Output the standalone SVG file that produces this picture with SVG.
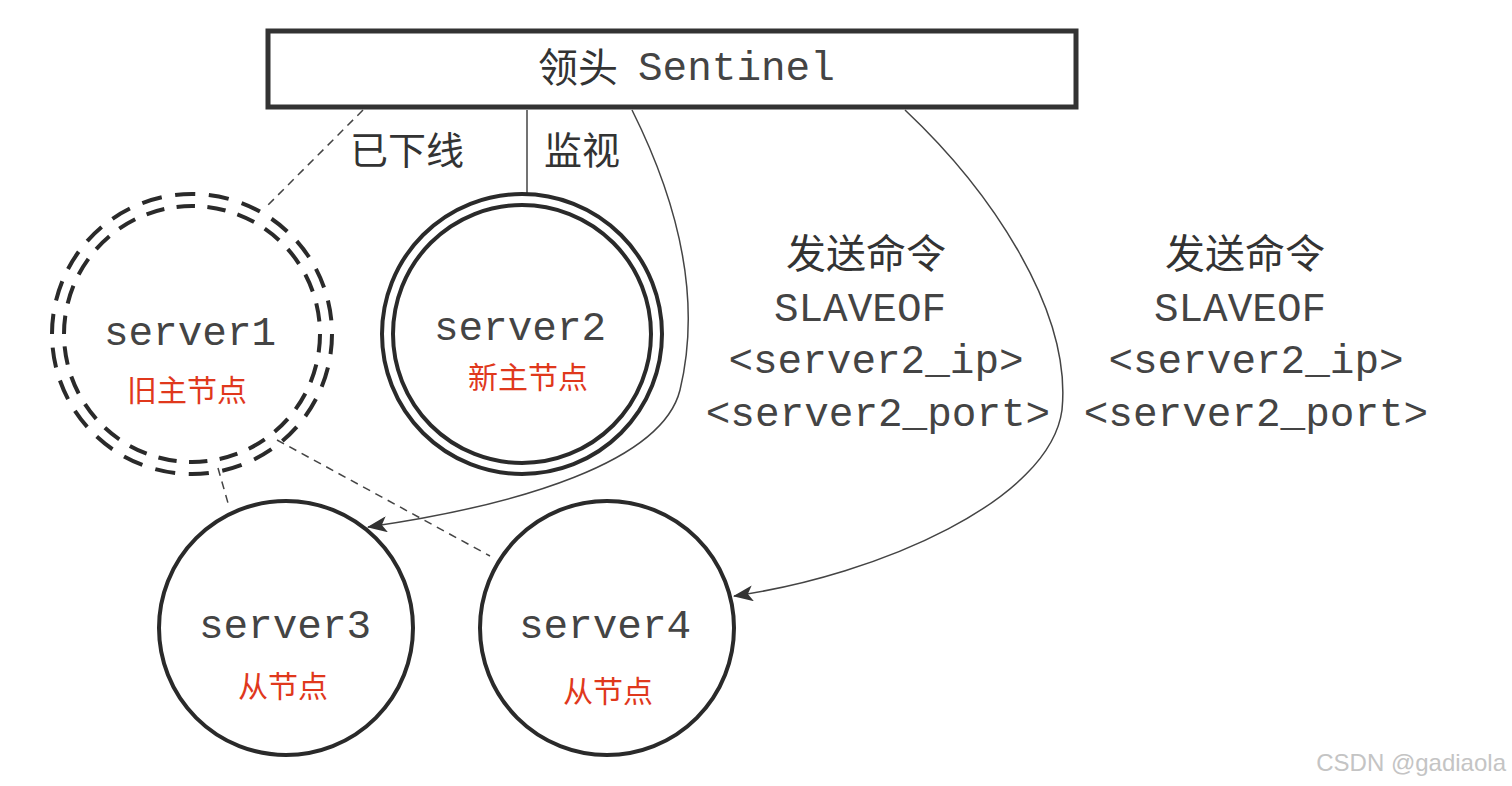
<svg xmlns="http://www.w3.org/2000/svg" width="1512" height="786" viewBox="0 0 1512 786">
  <style>
    .mono { font-family: "Liberation Mono", "DejaVu Sans Mono", monospace; font-size: 41px; fill: #444; }
    .cjk { font-family: "Noto Sans CJK SC", "Noto Sans", sans-serif; fill: #333; }
    .red { font-family: "Noto Sans CJK SC", "Noto Sans", sans-serif; font-size: 30px; fill: #e0381c; }
    .ring { fill: none; stroke: #2a2a2a; stroke-width: 4; }
    .dring { fill: none; stroke: #2a2a2a; stroke-width: 4; stroke-dasharray: 2.3 1.546; }
    .conn { fill: none; stroke: #444; stroke-width: 1.5; }
    .dash { fill: none; stroke: #444; stroke-width: 1.5; stroke-dasharray: 8 6; }
  </style>
  <defs>
    <marker id="arrow" viewBox="0 0 20 16" refX="19" refY="8" markerWidth="20" markerHeight="16" markerUnits="userSpaceOnUse" orient="auto">
      <path d="M0,0 L20,8 L0,16 L5,8 Z" fill="#333"/>
    </marker>
  </defs>
  <rect width="1512" height="786" fill="#fff"/>

  <g id="connectors">
    <line class="dash" x1="363" y1="110" x2="265" y2="208"/>
    <line class="conn" x1="527" y1="110" x2="527" y2="195" stroke="#666" stroke-width="2"/>
    <path class="conn" d="M632,110 C672,190 704,290 680,390 C662,462 520,505 368,527" marker-end="url(#arrow)"/>
    <path class="conn" d="M905,110 C990,190 1072,310 1062,410 C1050,500 880,575 734,596" marker-end="url(#arrow)"/>
    <line class="dash" x1="218" y1="468" x2="228" y2="503"/>
    <line class="dash" x1="277" y1="440" x2="490" y2="556"/>
  </g>

  <g id="sentinel">
    <rect x="268" y="31" width="808" height="76" fill="#fff" stroke="#333" stroke-width="5"/>
    <text x="538" y="82" class="cjk" font-size="40">领头</text>
    <text x="638" y="80" class="mono" font-size="40">Sentinel</text>
  </g>

  <g id="label-offline">
    <text x="407" y="164" class="cjk" font-size="38" text-anchor="middle">已下线</text>
  </g>
  <g id="label-monitor">
    <text x="582" y="164" class="cjk" font-size="38" text-anchor="middle">监视</text>
  </g>

  <g id="server1">
    <circle cx="192" cy="334" r="140" class="dring" pathLength="100"/>
    <circle cx="192" cy="334" r="128" class="dring" pathLength="100"/>
    <text x="190" y="345" class="mono" text-anchor="middle">server1</text>
    <text x="187" y="401" class="red" text-anchor="middle">旧主节点</text>
  </g>

  <g id="server2">
    <circle cx="522" cy="334" r="140" class="ring"/>
    <circle cx="522" cy="334" r="129" class="ring"/>
    <text x="520" y="340" class="mono" text-anchor="middle">server2</text>
    <text x="528" y="388" class="red" text-anchor="middle">新主节点</text>
  </g>

  <g id="server3">
    <circle cx="286" cy="628" r="127" class="ring" stroke-width="3.5"/>
    <text x="285" y="638" class="mono" text-anchor="middle">server3</text>
    <text x="283" y="697" class="red" text-anchor="middle">从节点</text>
  </g>

  <g id="server4">
    <circle cx="607" cy="628" r="127" class="ring" stroke-width="3.5"/>
    <text x="605" y="638" class="mono" text-anchor="middle">server4</text>
    <text x="608" y="702" class="red" text-anchor="middle">从节点</text>
  </g>

  <g id="cmd-left">
    <text x="866" y="268" class="cjk" font-size="40" text-anchor="middle">发送命令</text>
    <text x="860" y="321" class="mono" text-anchor="middle">SLAVEOF</text>
    <text x="876" y="373" class="mono" text-anchor="middle">&lt;server2_ip&gt;</text>
    <text x="878" y="426" class="mono" text-anchor="middle">&lt;server2_port&gt;</text>
  </g>

  <g id="cmd-right">
    <text x="1245" y="268" class="cjk" font-size="40" text-anchor="middle">发送命令</text>
    <text x="1240" y="321" class="mono" text-anchor="middle">SLAVEOF</text>
    <text x="1256" y="373" class="mono" text-anchor="middle">&lt;server2_ip&gt;</text>
    <text x="1256" y="426" class="mono" text-anchor="middle">&lt;server2_port&gt;</text>
  </g>

  <text x="1506" y="771" font-family="Liberation Sans, Arial, sans-serif" font-size="24" fill="#c4c4c4" text-anchor="end">CSDN @gadiaola</text>
</svg>
